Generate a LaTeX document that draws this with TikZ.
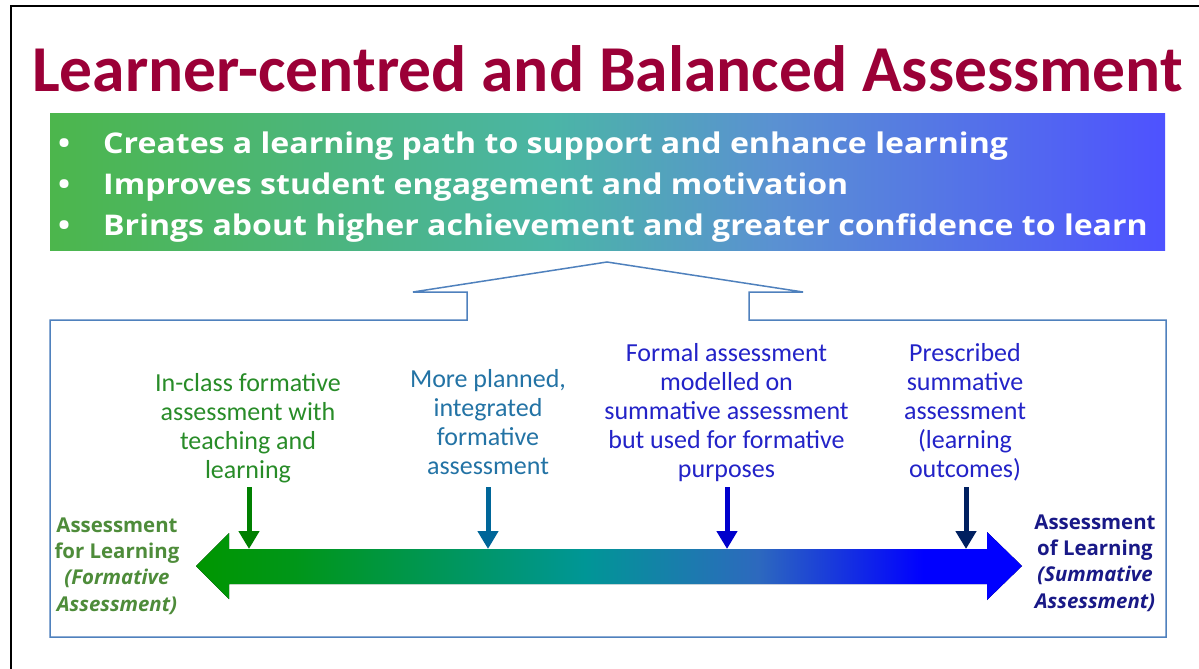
\documentclass[tikz,border=0pt]{standalone}
\usepackage{fontspec}
\setmainfont{Open Sans}
\newfontfamily\headfont{Carlito}
\newfontfamily\widefont[FakeStretch=1.125]{Open Sans}
\usetikzlibrary{arrows.meta}

% palette
\definecolor{titlered}{RGB}{155,0,55}
\definecolor{bannergreen}{RGB}{76,182,76}
\definecolor{bannerteal}{RGB}{75,181,166}
\definecolor{bannersky}{RGB}{90,145,210}
\definecolor{bannerblue}{RGB}{78,82,255}
\definecolor{framecol}{RGB}{79,129,189}
\definecolor{axisgreen}{RGB}{0,150,0}
\definecolor{axisgreen2}{RGB}{0,150,25}
\definecolor{axisteal}{RGB}{0,150,150}
\definecolor{axissteel}{RGB}{45,105,190}
\definecolor{axisblue}{RGB}{0,0,255}
\definecolor{ptgreen}{RGB}{0,128,0}
\definecolor{ptteal}{RGB}{0,102,153}
\definecolor{ptblue}{RGB}{0,0,204}
\definecolor{ptnavy}{RGB}{0,32,96}
\definecolor{txtgreen}{RGB}{40,140,40}
\definecolor{txtteal}{RGB}{35,115,165}
\definecolor{txtblue}{RGB}{35,35,200}
\definecolor{endgreen}{RGB}{78,140,58}
\definecolor{endnavy}{RGB}{25,25,135}

% shadings: the 25bp..75bp band is stretched over the filled path
\pgfdeclarehorizontalshading{bannershade}{100bp}{%
  color(0bp)=(bannergreen); color(25bp)=(bannergreen);
  color(47.5bp)=(bannerteal); color(57.5bp)=(bannersky);
  color(75bp)=(bannerblue); color(100bp)=(bannerblue)}
\pgfdeclarehorizontalshading{axisshade}{100bp}{%
  color(0bp)=(axisgreen); color(25bp)=(axisgreen);
  color(31bp)=(axisgreen2); color(48.5bp)=(axisteal);
  color(59bp)=(axissteel); color(69bp)=(axisblue);
  color(100bp)=(axisblue)}

\tikzset{
  titletext/.style={anchor=base, inner sep=0pt, text=titlered,
    font=\headfont\fontsize{65.5}{72}\selectfont\bfseries},
  banner/.style={inner sep=0pt, minimum width=1115pt, minimum height=137pt,
    shading=bannershade},
  bullettext/.style={anchor=base west, inner sep=0pt, text=white,
    font=\widefont\fontsize{28.5}{41}\selectfont\bfseries},
  outline/.style={draw=framecol, line width=1.5pt},
  stage/.style={anchor=base, inner sep=0pt, align=center,
    font=\headfont\fontsize{26}{29}\selectfont},
  endlabel/.style={anchor=base, inner sep=0pt, align=center,
    font=\fontsize{20.4}{26.2}\selectfont\bfseries},
  pointer/.style={line width=5pt, -{Triangle[width=20pt,length=18pt]}},
  axisfill/.style={shading=axisshade}
}

\begin{document}
\begin{tikzpicture}[x=1pt,y=-1pt]
\useasboundingbox (0,0) rectangle (1199,669);
\fill[white] (0,0) rectangle (1199,669);

% outer frame (left and top edges)
\draw[black, line width=2pt] (11,669) -- (11,6) -- (1199,6);

% heading
\node[titletext] (title) at (607.5,91) {Learner-centred and Balanced Assessment};

% gradient banner with the three benefits
\node[banner] (banner) at (607.5,181.5) {};
\node[bullettext] (b1) at (58,153) {\makebox[45pt][l]{•}Creates a learning path to support and enhance learning};
\node[bullettext] (b2) at (58,194) {\makebox[45pt][l]{•}Improves student engagement and motivation};
\node[bullettext] (b3) at (58,235) {\makebox[45pt][l]{•}Brings about higher achievement and greater confidence to learn};

% callout box pointing up to the banner
\draw[outline] (50,320) -- (467,320) -- (467,292) -- (413,292) -- (607,262)
  -- (803,292) -- (749,292) -- (749,320) -- (1166,320) -- (1166,637)
  -- (50,637) -- cycle;

% the formative-to-summative continuum
\fill[axisfill] (196,566) -- (229,533) -- (229,549) -- (987,549) -- (987,532)
  -- (1022,566) -- (987,600) -- (987,584) -- (229,584) -- (229,599) -- cycle;

% stages along the continuum (anchored at the last baseline)
\node[stage, text=txtgreen] (s1) at (248,478)
  {In-class formative\\assessment with\\teaching and\\learning};
\node[stage, text=txtteal] (s2) at (488,474)
  {More planned,\\integrated\\formative\\assessment};
\node[stage, text=txtblue] (s3) at (726.5,477)
  {Formal assessment\\modelled on\\summative assessment\\but used for formative\\purposes};
\node[stage, text=txtblue] (s4) at (965,477)
  {Prescribed\\summative\\assessment\\(learning\\outcomes)};

\coordinate (p1a) at (249,487); \coordinate (p1b) at (249,549);
\coordinate (p2a) at (488,487); \coordinate (p2b) at (488,549);
\coordinate (p3a) at (727,487); \coordinate (p3b) at (727,549);
\coordinate (p4a) at (966,487); \coordinate (p4b) at (966,549);
\draw[pointer, ptgreen] (p1a) -- (p1b);
\draw[pointer, ptteal] (p2a) -- (p2b);
\draw[pointer, ptblue] (p3a) -- (p3b);
\draw[pointer, ptnavy] (p4a) -- (p4b);

% ends of the continuum
\node[endlabel, text=endgreen] (left) at (117,611)
  {Assessment\\for Learning\\\textit{(Formative}\\\textit{Assessment)}};
\node[endlabel, text=endnavy] (right) at (1095,608)
  {Assessment\\of Learning\\\textit{(Summative}\\\textit{Assessment)}};
\end{tikzpicture}
\end{document}
